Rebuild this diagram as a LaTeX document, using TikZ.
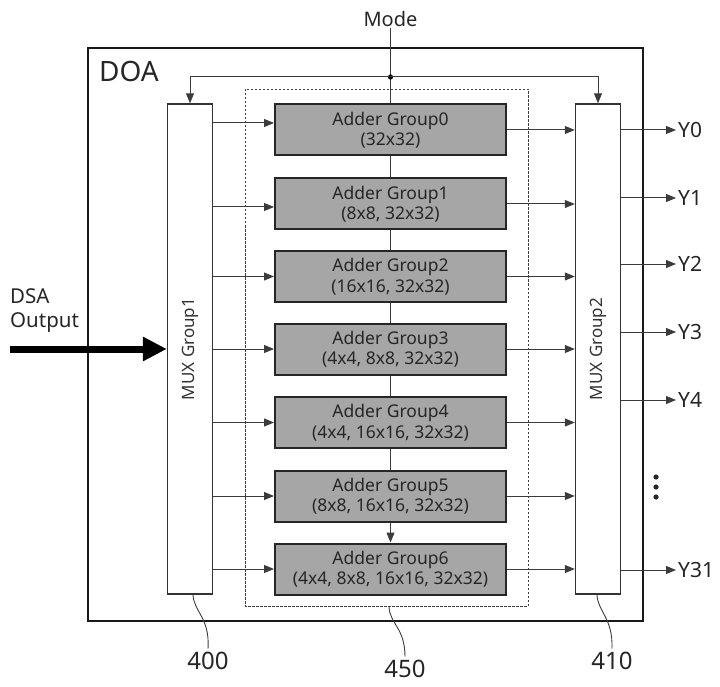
\documentclass[tikz,border=0pt]{standalone}
\usepackage{fontspec}
\setmainfont{Noto Sans}
\usetikzlibrary{arrows.meta,calc}
\definecolor{addergray}{RGB}{166,166,166}
\definecolor{linegray}{RGB}{60,60,60}
\begin{document}
\begin{tikzpicture}[x=1pt,y=-1pt,
  thinline/.style={line width=1pt, draw=linegray},
  arr/.style={thinline, -{Triangle[length=10pt,width=8pt]}},
  adder/.style={draw=black!85, line width=2pt, fill=addergray, minimum width=231pt, minimum height=51pt,
    align=center, font=\fontsize{17.5}{20.5}\selectfont, inner sep=0pt, text=black!85},
  mux/.style={draw=black!80, line width=1.4pt, fill=white, minimum width=45pt, minimum height=490pt, inner sep=0pt},
  muxlab/.style={rotate=90, font=\fontsize{17}{19}\selectfont, text=black!80},
  ylab/.style={anchor=west, inner ysep=0pt, inner xsep=2pt, font=\fontsize{21}{23}\selectfont, text=black!85},
  numlab/.style={font=\fontsize{24}{26}\selectfont, text=black!85},
  leader/.style={line width=0.9pt, draw=linegray}
]
\useasboundingbox (0,0) rectangle (720,687);

% outer DOA box and dashed box
\draw[line width=2.5pt, draw=black!90] (88,48) rectangle (643,621);
\node[anchor=base west, inner sep=0pt, font=\fontsize{28}{30}\selectfont, text=black!85] (doa) at (99,82) {DOA};
\draw[line width=0.9pt, draw=linegray, dash pattern=on 2.5pt off 1.5pt] (245,89) rectangle (528,606);

% MUX groups
\node[mux] (mux1) at (190,349) {};
\node[muxlab] (mux1lab) at (mux1.center) {MUX Group1};
\node[mux] (mux2) at (598,349) {};
\node[muxlab] (mux2lab) at (mux2.center) {MUX Group2};

% adder groups
\node[adder] (ag0) at (390.5,130) {Adder Group0\\(32x32)};
\node[adder] (ag1) at (390.5,204) {Adder Group1\\(8x8, 32x32)};
\node[adder] (ag2) at (390.5,276.5) {Adder Group2\\(16x16, 32x32)};
\node[adder] (ag3) at (390.5,349) {Adder Group3\\(4x4, 8x8, 32x32)};
\node[adder] (ag4) at (390.5,422.5) {Adder Group4\\(4x4, 16x16, 32x32)};
\node[adder] (ag5) at (390.5,496) {Adder Group5\\(8x8, 16x16, 32x32)};
\node[adder] (ag6) at (390.5,569) {Adder Group6\\(4x4, 8x8, 16x16, 32x32)};

% mode line
\node[font=\fontsize{20}{22}\selectfont, text=black!85, inner sep=1pt] (mode) at (390.5,19) {Mode};
\coordinate (j) at (390.5,77);
\draw[thinline] (mode.south) -- (j) -- (ag0.north);
\fill[black] (j) circle (2.6pt);
\draw[arr] (j) -| (mux1.north);
\draw[arr] (j) -| (mux2.north);
\draw[thinline] (ag0.south) -- (ag1.north);
\draw[thinline] (ag1.south) -- (ag2.north);
\draw[thinline] (ag2.south) -- (ag3.north);
\draw[thinline] (ag3.south) -- (ag4.north);
\draw[thinline] (ag4.south) -- (ag5.north);
\draw[arr] (ag5.south) -- (ag6.north);

% inputs from MUX1
\draw[arr] ($(mux1.east |- ag0.west)+(0,-7)$) -- ($(ag0.west)+(0,-7)$);
\draw[arr] ($(mux1.east |- ag1.west)+(0,3)$) -- ($(ag1.west)+(0,3)$);
\foreach \n in {2,3,4,5,6}{
  \draw[arr] (mux1.east |- ag\n.west) -- (ag\n.west);
}
% outputs to MUX2
\foreach \n in {0,1,2,3,4,5,6}{
  \draw[arr] (ag\n.east) -- (mux2.west |- ag\n.east);
}

% Y outputs
\node[ylab] (y0) at (676,130) {Y0};
\node[ylab] (y1) at (676,198) {Y1};
\node[ylab] (y2) at (676,264) {Y2};
\node[ylab] (y3) at (676,332) {Y3};
\node[ylab] (y4) at (676,400) {Y4};
\node[ylab] (y31) at (676,570) {Y31};
\foreach \y in {y0,y1,y2,y3,y4,y31}{
  \draw[arr] (mux2.east |- \y.west) -- (\y.west);
}
\fill[black!85] (656,477) circle (2.6pt) (656,487) circle (2.6pt) (656,497) circle (2.6pt);

% DSA output
\node[anchor=north west, align=left, inner sep=0pt, font=\fontsize{20.5}{24}\selectfont, text=black!85] (dsa) at (10,288) {DSA\\Output};
\coordinate (dsain) at (10,349);
\draw[line width=7pt, black, -{Triangle[length=24pt,width=23pt]}] (dsain) -- (mux1.west |- dsain);

% reference numerals
\node[numlab] (n400) at (208,661) {400};
\node[numlab] (n450) at (405,669) {450};
\node[numlab] (n410) at (612,661) {410};
\coordinate (l400) at (193,595);
\coordinate (l450) at (389,607);
\coordinate (l410) at (597,595);
\draw[leader] (l400) .. controls (194,612) and (210,618) .. (n400.north);
\draw[leader] (l450) .. controls (390,624) and (405,628) .. (n450.north);
\draw[leader] (l410) .. controls (598,612) and (613,618) .. (n410.north);
\end{tikzpicture}
\end{document}
